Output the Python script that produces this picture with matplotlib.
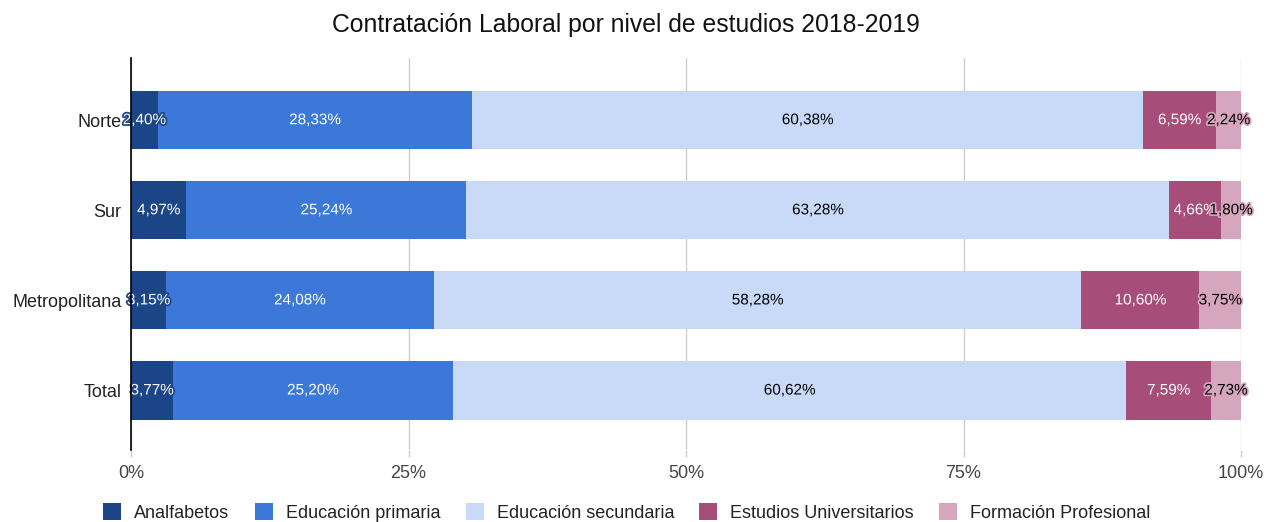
import matplotlib
matplotlib.use("Agg")
import matplotlib.pyplot as plt
import matplotlib.patheffects as pe
from matplotlib.ticker import FuncFormatter
from matplotlib.patches import Patch

plt.rcParams['font.family'] = ['Liberation Sans', 'DejaVu Sans']

categories = ["Norte", "Sur", "Metropolitana", "Total"]
series_names = ["Analfabetos", "Educación primaria", "Educación secundaria",
                "Estudios Universitarios", "Formación Profesional"]
analfabetos = [2.40, 4.97, 3.15, 3.77]
primaria = [28.33, 25.24, 24.08, 25.20]
secundaria = [60.38, 63.28, 58.28, 60.62]
universitarios = [6.59, 4.66, 10.60, 7.59]
fp = [2.24, 1.80, 3.75, 2.73]
series = [analfabetos, primaria, secundaria, universitarios, fp]
xticks = [0, 25, 50, 75, 100]

colors = ["#1c4587", "#3c78d8", "#c9daf8", "#a64d79", "#d5a6bd"]
text_colors = ["white", "white", "black", "white", "black"]

fig = plt.figure(figsize=(12.67, 5.22), dpi=100)
ax = fig.add_axes([131/1267, 1-450/522, 1110/1267, 392/522])

totals = [sum(s[i] for s in series) for i in range(len(categories))]
y = list(range(len(categories)))
left = [0.0]*len(categories)
for k, s in enumerate(series):
    widths = [s[i]/totals[i]*100 for i in range(len(categories))]
    ax.barh(y, widths, left=left, height=0.645, color=colors[k], zorder=2,
            label=series_names[k])
    for i in range(len(categories)):
        cx = left[i] + widths[i]/2
        ax.text(cx, y[i], f"{s[i]:.2f}%".replace(".", ","), ha="center", va="center",
                fontsize=11, color=text_colors[k], zorder=4,
                path_effects=[pe.withStroke(linewidth=2.5, foreground=colors[k])])
    left = [left[i] + widths[i] for i in range(len(categories))]

ax.set_xlim(0, 100)
ax.set_ylim(3.66, -0.69)
ax.set_yticks(y)
ax.set_yticklabels(categories, fontsize=13, color="#222222")
ax.set_xticks(xticks)
ax.xaxis.set_major_formatter(FuncFormatter(lambda v, p: f"{v:.0f}%"))
ax.tick_params(axis="x", labelsize=13, colors="#cccccc", labelcolor="#444444",
               length=5, width=1, pad=6)
ax.tick_params(axis="y", length=0, pad=7)
ax.grid(axis="x", color="#cccccc", linewidth=1, zorder=0)
for sp in ["top", "right", "bottom"]:
    ax.spines[sp].set_visible(False)
ax.spines["left"].set_color("black")
ax.spines["left"].set_linewidth(1.2)
ax.spines["left"].set_zorder(5)

fig.text(626/1267, 1-25/522, "Contratación Laboral por nivel de estudios 2018-2019",
         fontsize=17.8, ha="center", va="center", color="#111111")

handles = [Patch(facecolor=c) for c in colors]
fig.legend(handles, series_names, loc="center", ncol=5, frameon=False,
           bbox_to_anchor=(627/1267, 1-512.5/522), fontsize=13, handlelength=1.0,
           handleheight=1.0, columnspacing=1.4, handletextpad=0.72,
           labelcolor="#222222", borderpad=0, borderaxespad=0)

fig.savefig("out.png", dpi=100)
